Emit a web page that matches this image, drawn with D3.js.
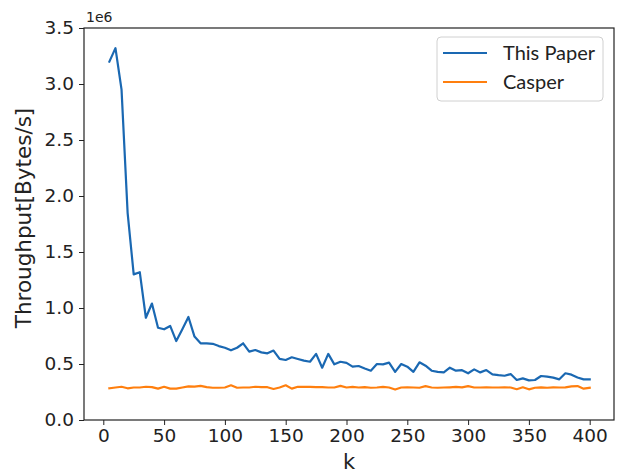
<!DOCTYPE html>
<html>
<head>
<meta charset="utf-8">
<script src="https://cdn.jsdelivr.net/npm/d3@7"></script>
<style>
  html, body { margin: 0; padding: 0; background: #fff; }
  svg { display: block; }
</style>
</head>
<body>
<svg id="chart" width="623" height="475"></svg>
<script>
// ---- data ----
const kValues = [5,10,15,20,25,30,35,40,45,50,55,60,65,70,75,80,85,90,95,100,
  105,110,115,120,125,130,135,140,145,150,155,160,165,170,175,180,185,190,195,200,
  205,210,215,220,225,230,235,240,245,250,255,260,265,270,275,280,285,290,295,300,
  305,310,315,320,325,330,335,340,345,350,355,360,365,370,375,380,385,390,395,400];

// Throughput in Bytes/s
const thisPaper = [3200000,3320000,2950000,1850000,1300000,1320000,913000,1040000,824000,810000,
  840000,705000,810000,920000,745000,685000,685000,680000,660000,645000,
  622000,645000,685000,610000,625000,604000,595000,620000,545000,536000,
  560000,545000,530000,520000,590000,467000,590000,497000,520000,510000,
  476000,482000,460000,440000,500000,497000,512000,430000,500000,476000,
  430000,515000,485000,440000,430000,425000,467000,440000,445000,417000,
  452000,425000,446000,408000,400000,395000,410000,357000,372000,354000,
  357000,393000,387000,378000,363000,417000,405000,380000,363000,363000];

const casper = [283000,290000,297000,283000,290000,290000,297000,293000,280000,297000,
  280000,280000,290000,300000,298000,304000,293000,288000,288000,290000,
  310000,288000,290000,290000,297000,293000,293000,277000,290000,310000,
  280000,297000,295000,295000,293000,293000,290000,290000,305000,290000,
  295000,290000,293000,288000,290000,295000,290000,272000,290000,292000,
  290000,288000,302000,290000,288000,290000,292000,295000,292000,302000,
  290000,290000,292000,290000,290000,292000,290000,275000,292000,274000,
  288000,292000,288000,292000,290000,292000,300000,303000,280000,287000];

const seriesNames = ["This Paper", "Casper"];
const seriesColors = ["#1a68b2", "#ff7f0e"];
const xTicks = [0,50,100,150,200,250,300,350,400];
const yTicks = [0,500000,1000000,1500000,2000000,2500000,3000000,3500000];
const xLabel = "k";
const yLabel = "Throughput[Bytes/s]";
const offsetLabel = "1e6";

// ---- layout ----
const svg = d3.select("#chart");
const plotL = 84, plotR = 614, plotT = 28, plotB = 420;

const x = d3.scaleLinear().domain([0, 400]).range([103.3, 589.7]);
const y = d3.scaleLinear().domain([0, 3500000]).range([plotB, plotT]);

const tickFont = "DejaVu Sans, sans-serif";

// axes
const xAxis = d3.axisBottom(x).tickValues(xTicks).tickSize(5).tickPadding(4)
  .tickFormat(d3.format("d"));
const yAxis = d3.axisLeft(y).tickValues(yTicks).tickSize(5).tickPadding(5)
  .tickFormat(d => (d / 1e6).toFixed(1));

const gx = svg.append("g").attr("transform", `translate(0,${plotB})`).call(xAxis);
const gy = svg.append("g").attr("transform", `translate(${plotL},0)`).call(yAxis);
[gx, gy].forEach(g => {
  g.select(".domain").remove();
  g.selectAll(".tick line").attr("stroke", "#222").attr("stroke-width", 1);
  g.selectAll(".tick text").attr("fill", "#222")
    .style("font-family", tickFont).style("font-size", "18.5px");
});

// lines
const line = d3.line().x((d, i) => x(kValues[i])).y(d => y(d));
[thisPaper, casper].forEach((data, s) => {
  svg.append("path")
    .datum(data)
    .attr("fill", "none")
    .attr("stroke", seriesColors[s])
    .attr("stroke-width", 2.2)
    .attr("stroke-linejoin", "round")
    .attr("stroke-linecap", "square")
    .attr("d", line);
});

// spines
svg.append("rect")
  .attr("x", plotL).attr("y", plotT)
  .attr("width", plotR - plotL).attr("height", plotB - plotT)
  .attr("fill", "none").attr("stroke", "#222").attr("stroke-width", 1.2);

// offset text
svg.append("text").attr("x", 86).attr("y", 22)
  .style("font-family", tickFont).style("font-size", "14px").attr("fill", "#222")
  .text(offsetLabel);

// axis labels
svg.append("text")
  .attr("transform", `translate(31,218) rotate(-90)`)
  .attr("text-anchor", "middle")
  .style("font-family", tickFont).style("font-size", "21.5px").attr("fill", "#222")
  .text(yLabel);

svg.append("text")
  .attr("x", (plotL + plotR) / 2).attr("y", 469)
  .attr("text-anchor", "middle")
  .style("font-family", tickFont).style("font-size", "21px").attr("fill", "#222")
  .text(xLabel);

// legend
const lg = svg.append("g");
lg.append("rect")
  .attr("x", 437).attr("y", 37).attr("width", 166).attr("height", 64)
  .attr("rx", 4).attr("fill", "#fff").attr("fill-opacity", 0.85)
  .attr("stroke", "#d0d0d0").attr("stroke-width", 1);
seriesNames.forEach((name, i) => {
  const yy = 53 + i * 29;
  lg.append("line").attr("x1", 443).attr("x2", 487).attr("y1", yy).attr("y2", yy)
    .attr("stroke", seriesColors[i]).attr("stroke-width", 2.2);
  lg.append("text").attr("x", 503).attr("y", yy + 6.5)
    .style("font-family", "Lato, sans-serif").style("font-size", "20px").attr("fill", "#222")
    .text(name);
});
</script>
</body>
</html>
